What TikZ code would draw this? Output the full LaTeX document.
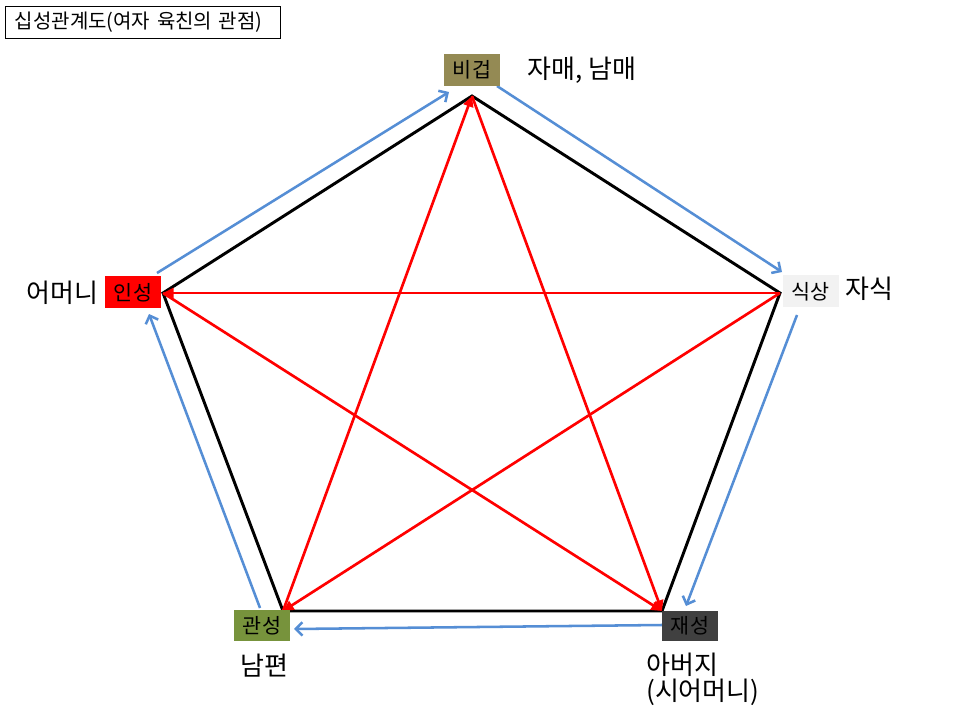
\documentclass[tikz,border=0pt]{standalone}
\usepackage{fontspec}
\setmainfont{Noto Sans CJK KR}
\usetikzlibrary{arrows.meta}
\definecolor{bgolive}{HTML}{948A54}
\definecolor{bggray}{HTML}{F2F2F2}
\definecolor{bgdark}{HTML}{404040}
\definecolor{bggreen}{HTML}{77933C}
\definecolor{bluearr}{HTML}{558ED5}
\begin{document}
\begin{tikzpicture}[x=0.75pt,y=-0.75pt,
  box/.style={minimum width=42pt,minimum height=24pt,inner sep=0pt,font=\fontsize{15.5}{17}\selectfont},
  lbl/.style={inner sep=0pt,font=\fontsize{19.5}{19.5}\selectfont},
  pent/.style={line width=2.2pt,black,line join=miter},
  redarr/.style={line width=2pt,red,-{Triangle[length=8pt,width=7.5pt]}},
  bluarr/.style={line width=1.9pt,bluearr,-{Straight Barb[length=5pt,width=10pt]}}]
\useasboundingbox (0,0) rectangle (960,720);
\fill[white] (0,0) rectangle (960,720);
% title
\node[draw,line width=0.75pt,anchor=north west,text width=192pt,inner xsep=7pt,minimum height=24pt,align=left,font=\fontsize{15}{17}\selectfont] (title) at (5,6) {십성관계도(여자 육친의 관점)};
% pentagon vertices
\coordinate (V1) at (472,96);
\coordinate (V2) at (780,293);
\coordinate (V3) at (662,611);
\coordinate (V4) at (283,611);
\coordinate (V5) at (163,293);
\draw[pent] (V1) -- (V2) -- (V3) -- (V4) -- (V5) -- cycle;
% red star
\draw[redarr] (V4) -- (V1);
\draw[redarr] (V1) -- (V3);
\draw[redarr] (V5) -- (V3);
\draw[redarr] (V2) -- (V5);
\draw[redarr] (V2) -- (V4);
% blue cycle
\coordinate (b1s) at (157,273); \coordinate (b1e) at (449,92);
\coordinate (b2s) at (497,86);  \coordinate (b2e) at (782,272);
\coordinate (b3s) at (797,315); \coordinate (b3e) at (686,606);
\coordinate (b4s) at (662,625); \coordinate (b4e) at (294,629);
\coordinate (b5s) at (260,608); \coordinate (b5e) at (149,314);
\draw[bluarr] (b1s) -- (b1e);
\draw[bluarr] (b2s) -- (b2e);
\draw[bluarr] (b3s) -- (b3e);
\draw[bluarr] (b4s) -- (b4e);
\draw[bluarr] (b5s) -- (b5e);
% boxes
\node[box,fill=bgolive] (bigeop) at (472,70) {비겁};
\node[box,fill=bggray] (siksang) at (810.5,291.5) {식상};
\node[box,fill=bgdark,minimum height=22.5pt] (jaeseong) at (690,626) {재성};
\node[box,fill=bggreen,minimum height=23pt] (gwanseong) at (262,625.5) {관성};
\node[box,fill=red] (inseong) at (133,292.5) {인성};
% outer labels
\node[lbl,anchor=west] (l1) at (527,70) {자매, 남매};
\node[lbl,anchor=west] (l2) at (845,289) {자식};
\node[lbl,anchor=east] (l3) at (99,293) {어머니};
\node[lbl] (l4) at (264,666) {남편};
\node[lbl,anchor=north west,align=left] (l5) at (646,653) {아버지\\(시어머니)};
\end{tikzpicture}
\end{document}
